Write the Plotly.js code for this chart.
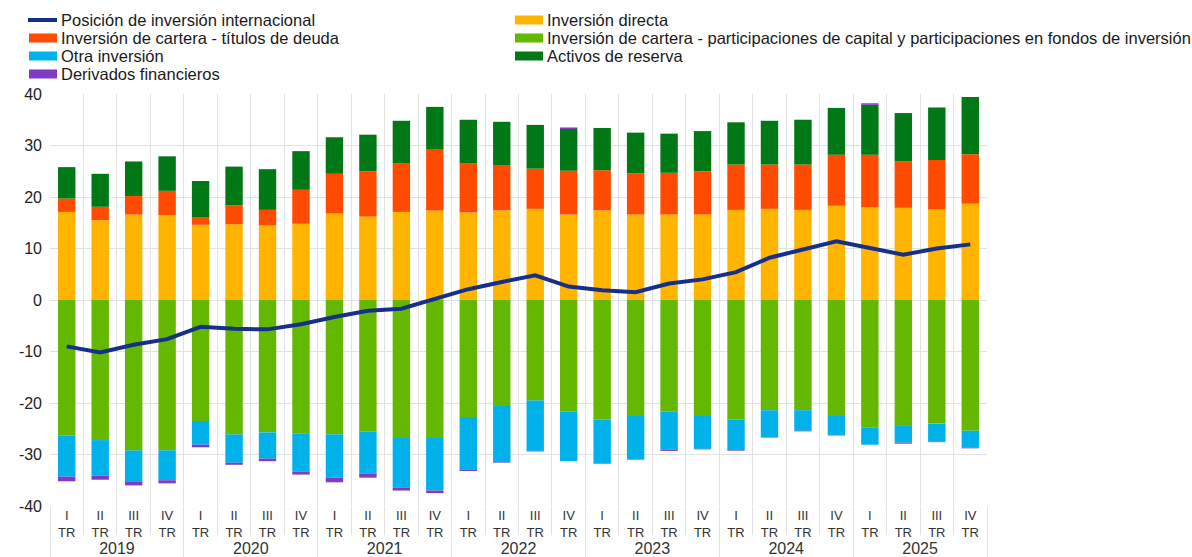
<!DOCTYPE html>
<html lang="es">
<head>
<meta charset="utf-8">
<script src="https://cdn.plot.ly/plotly-3.0.1.min.js"></script>
<style>
  html, body { margin: 0; padding: 0; background: #fff; }
  #chart { width: 1192px; height: 557px; }
</style>
</head>
<body>
<div id="chart"></div>
<script>
// quarters 2019 I TR .. 2025 IV TR, % of GDP
const YEARS = ["2019", "2020", "2021", "2022", "2023", "2024", "2025"];
const QUARTERS = ["I", "II", "III", "IV"];

const netPosition = [-9.0, -10.2, -8.7, -7.6, -5.2, -5.6, -5.7, -4.7, -3.3, -2.1, -1.7, 0.3, 2.1, 3.5, 4.8, 2.6, 1.9, 1.5, 3.2, 4.0, 5.4, 8.2, 9.8, 11.4, 10.1, 8.8, 10.0, 10.8];
const directInvestment = [17.1, 15.5, 16.6, 16.5, 14.6, 14.7, 14.5, 14.8, 16.8, 16.2, 17.1, 17.4, 17.0, 17.4, 17.7, 16.6, 17.4, 16.6, 16.6, 16.6, 17.5, 17.7, 17.5, 18.3, 18.0, 17.9, 17.6, 18.7];
const debtSecurities = [2.6, 2.6, 3.6, 4.7, 1.4, 3.7, 3.0, 6.6, 7.7, 8.8, 9.5, 11.8, 9.5, 8.7, 7.8, 8.5, 7.8, 8.0, 8.1, 8.4, 8.8, 8.6, 8.8, 9.9, 10.2, 9.0, 9.6, 9.6];
const equityAndFunds = [-26.3, -27.2, -29.2, -29.2, -23.5, -26.1, -25.7, -25.9, -26.1, -25.6, -26.8, -26.8, -22.7, -20.6, -19.5, -21.7, -23.2, -22.5, -21.7, -22.5, -23.2, -21.4, -21.4, -22.5, -24.8, -24.3, -24.0, -25.4];
const otherInvestment = [-8.0, -6.9, -6.0, -5.8, -4.6, -5.5, -5.1, -7.4, -8.4, -8.1, -9.6, -10.2, -10.2, -10.9, -9.8, -9.6, -8.5, -8.4, -7.4, -6.4, -6.0, -5.2, -4.0, -3.7, -3.3, -3.4, -3.5, -3.3];
const reserveAssets = [6.1, 6.4, 6.7, 6.7, 7.1, 7.5, 7.9, 7.5, 7.1, 7.1, 8.2, 8.3, 8.5, 8.5, 8.5, 8.1, 8.2, 7.9, 7.6, 7.8, 8.2, 8.5, 8.7, 9.1, 9.7, 9.4, 10.2, 11.1];
const derivatives = [-0.9, -0.8, -0.8, -0.6, -0.5, -0.4, -0.5, -0.6, -0.9, -0.8, -0.6, -0.5, -0.3, -0.1, -0.1, 0.3, -0.1, -0.1, -0.2, -0.1, -0.1, -0.1, -0.1, -0.1, 0.3, -0.2, -0.1, -0.1];

const yTickVals = [-40, -30, -20, -10, 0, 10, 20, 30, 40];
const yTickText = ["-40", "-30", "-20", "-10", "0", "10", "20", "30", "40"];

const COLORS = {
  line: "#16308a",
  direct: "#ffb400",
  debt: "#ff4b00",
  equity: "#65b800",
  other: "#00b1ea",
  reserves: "#007816",
  derivatives: "#8139c6",
};

// two-level category axis: year / quarter
const yearAxis = [];
const quarterAxis = [];
YEARS.forEach((year) => {
  QUARTERS.forEach((q) => {
    yearAxis.push(`<span style="font-size:16px">${year}</span>`);
    quarterAxis.push(`${q}<br>TR`);
  });
});
const xCats = [yearAxis, quarterAxis];

function barTrace(name, values, color) {
  return {
    type: "bar",
    name,
    x: xCats,
    y: values,
    marker: { color, line: { width: 0 } },
  };
}

const traces = [
  barTrace("Inversión directa", directInvestment, COLORS.direct),
  barTrace("Inversión de cartera - títulos de deuda", debtSecurities, COLORS.debt),
  barTrace("Inversión de cartera - participaciones de capital y participaciones en fondos de inversión", equityAndFunds, COLORS.equity),
  barTrace("Otra inversión", otherInvestment, COLORS.other),
  barTrace("Activos de reserva", reserveAssets, COLORS.reserves),
  barTrace("Derivados financieros", derivatives, COLORS.derivatives),
  {
    type: "scatter",
    mode: "lines",
    name: "Posición de inversión internacional",
    x: xCats,
    y: netPosition,
    line: { color: COLORS.line, width: 4 },
  },
];

// hand-built legend in two columns (plotly's rows are too tall here)
const PLOT = { left: 50, right: 987, top: 94, bottom: 506 };
const px = (x) => (x - PLOT.left) / (PLOT.right - PLOT.left);
const py = (y) => (PLOT.bottom - y) / (PLOT.bottom - PLOT.top);

const legendItems = [
  { name: "Posición de inversión internacional", color: COLORS.line, kind: "line", col: 0, row: 0 },
  { name: "Inversión de cartera - títulos de deuda", color: COLORS.debt, kind: "box", col: 0, row: 1 },
  { name: "Otra inversión", color: COLORS.other, kind: "box", col: 0, row: 2 },
  { name: "Derivados financieros", color: COLORS.derivatives, kind: "box", col: 0, row: 3 },
  { name: "Inversión directa", color: COLORS.direct, kind: "box", col: 1, row: 0 },
  { name: "Inversión de cartera - participaciones de capital y participaciones en fondos de inversión", color: COLORS.equity, kind: "box", col: 1, row: 1 },
  { name: "Activos de reserva", color: COLORS.reserves, kind: "box", col: 1, row: 2 },
];
const colX = [28, 514];
const rowY = [20, 38, 56, 74];

const shapes = [];
const annotations = [];
legendItems.forEach((item) => {
  const x0 = colX[item.col];
  const yc = rowY[item.row];
  if (item.kind === "line") {
    shapes.push({
      type: "line", xref: "paper", yref: "paper",
      x0: px(x0), x1: px(x0 + 29), y0: py(yc), y1: py(yc),
      line: { color: item.color, width: 4 },
    });
  } else {
    shapes.push({
      type: "rect", xref: "paper", yref: "paper",
      x0: px(x0 + 1), x1: px(x0 + 29), y0: py(yc - 4.5), y1: py(yc + 4.5),
      fillcolor: item.color, line: { width: 0 },
    });
  }
  annotations.push({
    xref: "paper", yref: "paper",
    x: px(x0 + 31), y: py(yc),
    xanchor: "left", yanchor: "middle",
    text: item.name, showarrow: false,
    font: { size: 16.5, color: "#1a1a1a" },
  });
});

const layout = {
  width: 1192,
  height: 557,
  margin: { l: PLOT.left, r: 1192 - PLOT.right, t: PLOT.top, b: 557 - PLOT.bottom },
  paper_bgcolor: "#fff",
  plot_bgcolor: "#fff",
  font: { family: "Liberation Sans, Arial, sans-serif", color: "#222" },
  barmode: "relative",
  bargap: 0.48,
  showlegend: false,
  xaxis: {
    type: "multicategory",
    tickson: "boundaries",
    ticks: "outside",
    ticklen: 28,
    tickcolor: "#e2e2e2",
    showgrid: true,
    gridcolor: "#e2e2e2",
    showdividers: true,
    dividercolor: "#e2e2e2",
    dividerwidth: 1,
    zeroline: false,
    showline: false,
    ticklabelstandoff: 0,
    tickfont: { size: 13, color: "#333" },
  },
  yaxis: {
    range: [-40, 40],
    tickmode: "array",
    tickvals: yTickVals,
    ticktext: yTickText,
    showgrid: true,
    gridcolor: "#e2e2e2",
    zeroline: true,
    zerolinecolor: "#e2e2e2",
    zerolinewidth: 1,
    ticks: "",
    ticklabelstandoff: 7,
    tickfont: { size: 16, color: "#222" },
  },
  shapes,
  annotations,
};

Plotly.newPlot("chart", traces, layout, { displayModeBar: false, staticPlot: true });
</script>
</body>
</html>
